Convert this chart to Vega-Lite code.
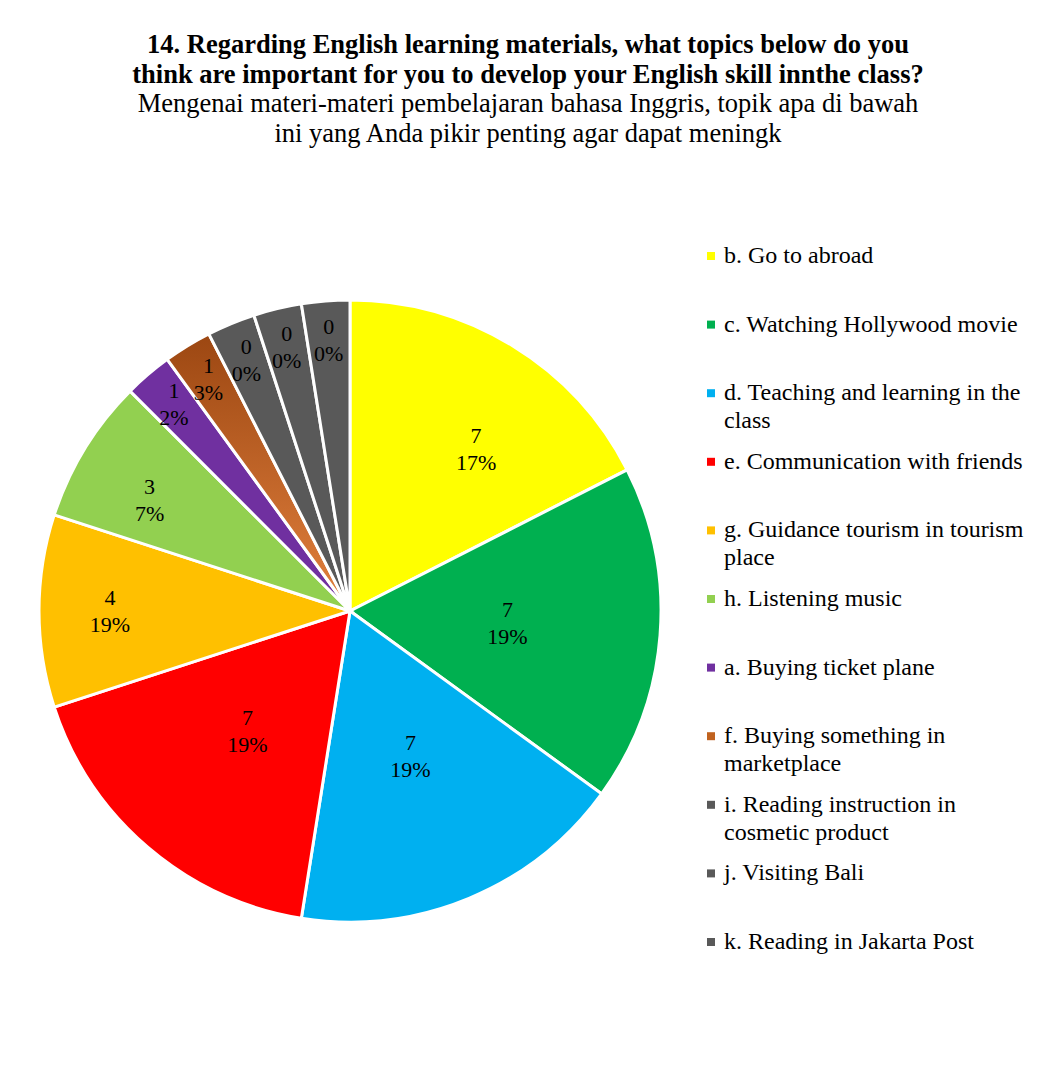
{
  "$schema": "https://vega.github.io/schema/vega-lite/v6.json",
  "width": 622,
  "height": 622,
  "autosize": {"type": "none"},
  "padding": {"left": 39, "top": 300, "right": 388, "bottom": 146},
  "background": "white",
  "config": {
    "view": {"stroke": null},
    "style": {"guide-label": {"lineHeight": 28}}
  },
  "title": {
    "text": ["14. Regarding English learning materials, what topics below do you", "think are important for you to develop your English skill innthe class?"],
    "subtitle": ["Mengenai materi-materi pembelajaran bahasa Inggris, topik apa di bawah", "ini yang Anda pikir penting agar dapat meningk"],
    "font": "Liberation Serif",
    "fontSize": 26.5,
    "fontWeight": "bold",
    "color": "black",
    "lineHeight": 30,
    "subtitleFont": "Liberation Serif",
    "subtitleFontSize": 26.5,
    "subtitleFontWeight": "normal",
    "subtitleColor": "black",
    "subtitleLineHeight": 30,
    "subtitlePadding": 2,
    "anchor": "middle",
    "frame": "group",
    "dx": 178,
    "offset": 97
  },
  "data": {
    "values": [
      {"rank": 1, "topic": "b. Go to abroad", "share": 7, "n": "7", "pct": "17%"},
      {"rank": 2, "topic": "c. Watching Hollywood movie", "share": 7, "n": "7", "pct": "19%"},
      {"rank": 3, "topic": "d. Teaching and learning in the|class", "share": 7, "n": "7", "pct": "19%"},
      {"rank": 4, "topic": "e. Communication with friends", "share": 7, "n": "7", "pct": "19%"},
      {"rank": 5, "topic": "g. Guidance tourism in tourism|place", "share": 4, "n": "4", "pct": "19%"},
      {"rank": 6, "topic": "h. Listening music", "share": 3, "n": "3", "pct": "7%"},
      {"rank": 7, "topic": "a. Buying ticket plane", "share": 1, "n": "1", "pct": "2%"},
      {"rank": 8, "topic": "f. Buying something in|marketplace", "share": 1, "n": "1", "pct": "3%"},
      {"rank": 9, "topic": "i. Reading instruction in|cosmetic product", "share": 1, "n": "0", "pct": "0%"},
      {"rank": 10, "topic": "j. Visiting Bali", "share": 1, "n": "0", "pct": "0%"},
      {"rank": 11, "topic": "k. Reading in Jakarta Post", "share": 1, "n": "0", "pct": "0%"}
    ]
  },
  "transform": [{"calculate": "datum.n + '\\n' + datum.pct", "as": "lbl"}],
  "encoding": {
    "theta": {"field": "share", "type": "quantitative", "stack": true},
    "order": {"field": "rank", "type": "quantitative", "sort": "ascending"}
  },
  "layer": [
    {
      "mark": {"type": "arc", "stroke": "white", "strokeWidth": 3},
      "encoding": {
        "color": {
          "condition": {
            "test": "datum.rank == 8",
            "value": {"gradient": "linear", "x1": 0, "y1": 0, "x2": 0, "y2": 1, "stops": [{"offset": 0, "color": "#9C4712"}, {"offset": 1, "color": "#E3813E"}]}
          },
          "field": "topic",
          "type": "nominal",
          "sort": null,
          "scale": {
            "domain": ["b. Go to abroad", "c. Watching Hollywood movie", "d. Teaching and learning in the|class", "e. Communication with friends", "g. Guidance tourism in tourism|place", "h. Listening music", "a. Buying ticket plane", "f. Buying something in|marketplace", "i. Reading instruction in|cosmetic product", "j. Visiting Bali", "k. Reading in Jakarta Post"],
            "range": ["#FFFF00", "#00B050", "#00B0F0", "#FF0000", "#FFC000", "#92D050", "#7030A0", "#C0621F", "#595959", "#595959", "#595959"]
          },
          "legend": {
            "title": null,
            "orient": "none",
            "legendX": 660,
            "legendY": -56,
            "direction": "vertical",
            "symbolType": "square",
            "symbolSize": 64,
            "symbolStrokeWidth": 0,
            "symbolOpacity": 1,
            "labelFont": "Liberation Serif",
            "labelFontSize": 24,
            "labelColor": "black",
            "labelOffset": 1,
            "labelLimit": 400,
            "rowPadding": 16.6,
            "gridAlign": "all",
            "padding": 0,
            "labelExpr": "split(datum.label, '|')"
          }
        }
      }
    },
    {
      "mark": {"type": "text", "radius": 205, "dx": 19, "dy": 0, "font": "Liberation Serif", "fontSize": 22, "lineHeight": 27, "lineBreak": "\n", "color": "black"},
      "encoding": {
        "text": {"field": "lbl"},
        "detail": {"field": "topic"},
        "opacity": {"condition": {"test": "datum.rank == 1", "value": 1}, "value": 0}
      }
    },
    {
      "mark": {"type": "text", "radius": 158, "dy": -13.5, "font": "Liberation Serif", "fontSize": 22, "lineHeight": 27, "lineBreak": "\n", "color": "black"},
      "encoding": {
        "text": {"field": "lbl"},
        "detail": {"field": "topic"},
        "opacity": {"condition": {"test": "datum.rank >= 2 && datum.rank <= 4", "value": 1}, "value": 0}
      }
    },
    {
      "mark": {"type": "text", "radius": 240, "dy": -13.5, "font": "Liberation Serif", "fontSize": 22, "lineHeight": 27, "lineBreak": "\n", "color": "black"},
      "encoding": {
        "text": {"field": "lbl"},
        "detail": {"field": "topic"},
        "opacity": {"condition": {"test": "datum.rank == 5", "value": 1}, "value": 0}
      }
    },
    {
      "mark": {"type": "text", "radius": 228, "dx": -6, "dy": -4.5, "font": "Liberation Serif", "fontSize": 22, "lineHeight": 27, "lineBreak": "\n", "color": "black"},
      "encoding": {
        "text": {"field": "lbl"},
        "detail": {"field": "topic"},
        "opacity": {"condition": {"test": "datum.rank == 6", "value": 1}, "value": 0}
      }
    },
    {
      "mark": {"type": "text", "radius": 271, "dy": -13.5, "font": "Liberation Serif", "fontSize": 22, "lineHeight": 27, "lineBreak": "\n", "color": "black"},
      "encoding": {
        "text": {"field": "lbl"},
        "detail": {"field": "topic"},
        "opacity": {"condition": {"test": "datum.rank >= 7", "value": 1}, "value": 0}
      }
    }
  ]
}
